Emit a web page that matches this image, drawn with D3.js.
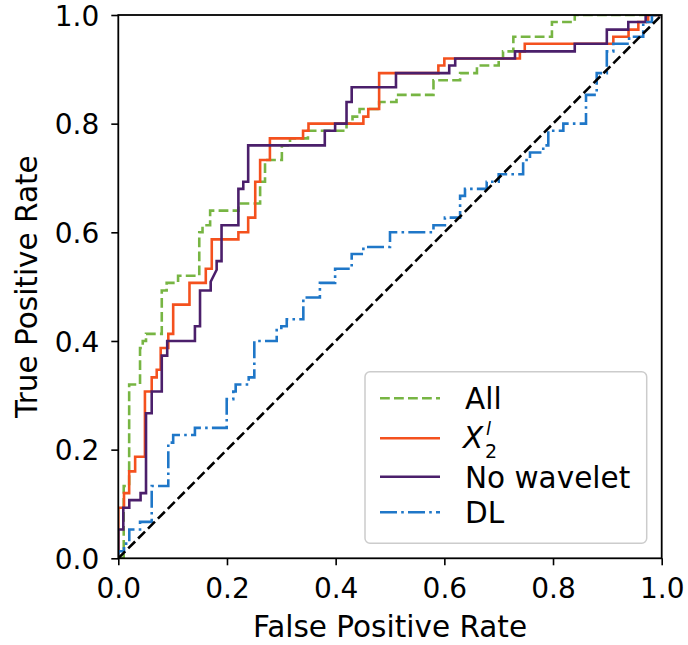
<!DOCTYPE html>
<html>
<head>
<meta charset="utf-8">
<script src="https://cdn.jsdelivr.net/npm/d3@7/dist/d3.min.js"></script>
<style>
  body { margin: 0; background: #fff; }
  text { font-family: "DejaVu Sans", sans-serif; fill: #000; }
</style>
</head>
<body>
<svg id="chart" width="688" height="645"></svg>
<script>
// ROC curves (vertices of the step lines)
const allFpr = [0, 0.01, 0.01, 0.02, 0.02, 0.04, 0.04, 0.045, 0.045, 0.051, 0.051, 0.08, 0.08, 0.089, 0.089, 0.11, 0.11, 0.149, 0.149, 0.155, 0.155, 0.169, 0.169, 0.221, 0.221, 0.261, 0.261, 0.27, 0.27, 0.301, 0.301, 0.316, 0.316, 0.349, 0.349, 0.42, 0.42, 0.431, 0.431, 0.444, 0.444, 0.48, 0.48, 0.512, 0.512, 0.58, 0.58, 0.629, 0.629, 0.66, 0.66, 0.70, 0.70, 0.708, 0.708, 0.727, 0.727, 0.798, 0.798, 0.84, 0.84, 1.0];
const allTpr = [0, 0, 0.133, 0.133, 0.32, 0.32, 0.387, 0.387, 0.40, 0.40, 0.413, 0.413, 0.493, 0.493, 0.507, 0.507, 0.52, 0.52, 0.60, 0.60, 0.613, 0.613, 0.64, 0.64, 0.653, 0.653, 0.693, 0.693, 0.733, 0.733, 0.76, 0.76, 0.773, 0.773, 0.787, 0.787, 0.80, 0.80, 0.813, 0.813, 0.827, 0.827, 0.84, 0.84, 0.853, 0.853, 0.88, 0.88, 0.893, 0.893, 0.907, 0.907, 0.92, 0.92, 0.933, 0.933, 0.96, 0.96, 0.987, 0.987, 1.0, 1.0];

const x2Fpr = [0, 0, 0.0105, 0.0105, 0.02, 0.02, 0.031, 0.031, 0.049, 0.049, 0.0615, 0.0615, 0.0707, 0.0707, 0.078, 0.078, 0.092, 0.092, 0.101, 0.101, 0.131, 0.131, 0.161, 0.161, 0.172, 0.172, 0.221, 0.221, 0.239, 0.239, 0.252, 0.252, 0.261, 0.261, 0.279, 0.279, 0.34, 0.34, 0.35, 0.35, 0.451, 0.451, 0.46, 0.46, 0.48, 0.48, 0.589, 0.589, 0.60, 0.60, 0.739, 0.739, 0.748, 0.748, 0.911, 0.911, 0.939, 0.939, 0.957, 0.957, 0.975, 0.975, 1.0];
const x2Tpr = [0, 0.093, 0.093, 0.12, 0.12, 0.16, 0.16, 0.187, 0.187, 0.307, 0.307, 0.333, 0.333, 0.347, 0.347, 0.387, 0.387, 0.413, 0.413, 0.467, 0.467, 0.507, 0.507, 0.533, 0.533, 0.587, 0.587, 0.60, 0.60, 0.627, 0.627, 0.693, 0.693, 0.733, 0.733, 0.773, 0.773, 0.787, 0.787, 0.80, 0.80, 0.813, 0.813, 0.827, 0.827, 0.893, 0.893, 0.907, 0.907, 0.92, 0.92, 0.933, 0.933, 0.947, 0.947, 0.96, 0.96, 0.973, 0.973, 0.987, 0.987, 1.0, 1.0];

const noWavFpr = [0, 0, 0.0092, 0.0092, 0.0202, 0.0202, 0.041, 0.041, 0.051, 0.051, 0.0615, 0.0615, 0.08, 0.08, 0.09, 0.09, 0.141, 0.141, 0.1504, 0.1504, 0.17, 0.17, 0.181, 0.181, 0.19, 0.19, 0.221, 0.221, 0.23, 0.23, 0.239, 0.239, 0.38, 0.38, 0.399, 0.399, 0.42, 0.42, 0.4295, 0.4295, 0.511, 0.511, 0.609, 0.609, 0.62, 0.62, 0.73, 0.73, 0.84, 0.84, 0.899, 0.899, 0.9385, 0.9385, 0.9705, 0.9705, 1.0];
const noWavTpr = [0, 0.053, 0.053, 0.093, 0.093, 0.107, 0.107, 0.12, 0.12, 0.267, 0.267, 0.307, 0.307, 0.373, 0.373, 0.40, 0.40, 0.427, 0.427, 0.493, 0.493, 0.509, 0.531, 0.547, 0.547, 0.613, 0.613, 0.68, 0.68, 0.693, 0.693, 0.76, 0.76, 0.787, 0.787, 0.80, 0.80, 0.84, 0.84, 0.867, 0.867, 0.893, 0.893, 0.907, 0.907, 0.92, 0.92, 0.933, 0.933, 0.947, 0.947, 0.973, 0.973, 0.987, 0.987, 1.0, 1.0];

const dlFpr = [0, 0, 0.0105, 0.0105, 0.0202, 0.0202, 0.04, 0.04, 0.0615, 0.0615, 0.092, 0.092, 0.101, 0.101, 0.141, 0.141, 0.1995, 0.1995, 0.2116, 0.2116, 0.216, 0.216, 0.24, 0.24, 0.2503, 0.2503, 0.2915, 0.2915, 0.30, 0.30, 0.31, 0.31, 0.3405, 0.3405, 0.371, 0.371, 0.399, 0.399, 0.4295, 0.4295, 0.451, 0.451, 0.50, 0.50, 0.58, 0.58, 0.601, 0.601, 0.629, 0.629, 0.638, 0.638, 0.678, 0.678, 0.70, 0.70, 0.745, 0.745, 0.7576, 0.7576, 0.782, 0.782, 0.7913, 0.7913, 0.819, 0.819, 0.8607, 0.8607, 0.8804, 0.8804, 0.899, 0.899, 0.911, 0.911, 0.94, 0.94, 0.966, 0.966, 0.982, 0.982, 1.0];
const dlTpr = [0, 0.013, 0.013, 0.027, 0.027, 0.053, 0.053, 0.067, 0.067, 0.133, 0.133, 0.213, 0.213, 0.227, 0.227, 0.24, 0.24, 0.293, 0.293, 0.307, 0.307, 0.32, 0.32, 0.333, 0.333, 0.40, 0.40, 0.42, 0.42, 0.427, 0.427, 0.44, 0.44, 0.48, 0.48, 0.507, 0.507, 0.533, 0.533, 0.56, 0.56, 0.573, 0.573, 0.60, 0.60, 0.613, 0.613, 0.627, 0.627, 0.667, 0.667, 0.68, 0.68, 0.693, 0.693, 0.707, 0.707, 0.733, 0.733, 0.747, 0.747, 0.76, 0.76, 0.787, 0.787, 0.80, 0.80, 0.853, 0.853, 0.893, 0.893, 0.933, 0.933, 0.947, 0.947, 0.96, 0.96, 0.987, 0.987, 1.0, 1.0];

const chanceLine = [0, 1];
const tickValues = [0, 0.2, 0.4, 0.6, 0.8, 1.0];

const series = [
    { name: 'All', fpr: allFpr, tpr: allTpr, color: '#77b543', dash: '9.8,4.2' },
    { name: 'X2l', fpr: x2Fpr, tpr: x2Tpr, color: '#f4511e', dash: null },
    { name: 'No wavelet', fpr: noWavFpr, tpr: noWavTpr, color: '#4b1f6b', dash: null },
    { name: 'DL', fpr: dlFpr, tpr: dlTpr, color: '#1f77c8', dash: '17,4.2,2.6,4.2' }
];

const svg = d3.select('#chart');
const margin = { top: 15, left: 118.3 };
const width = 543.4;
const height = 543.3;

const x = d3.scaleLinear().domain([0, 1]).range([margin.left, margin.left + width]);
const y = d3.scaleLinear().domain([0, 1]).range([margin.top + height, margin.top]);

svg.append('defs').append('clipPath').attr('id', 'plot-clip')
    .append('rect')
    .attr('x', x(0)).attr('y', y(1))
    .attr('width', width).attr('height', height);

const line = d3.line()
    .x(d => x(d[0]))
    .y(d => y(d[1]));

const plot = svg.append('g').attr('clip-path', 'url(#plot-clip)');

series.forEach(s => {
    const pts = s.fpr.map((f, i) => [f, s.tpr[i]]);
    plot.append('path')
        .datum(pts)
        .attr('d', line)
        .attr('fill', 'none')
        .attr('stroke', s.color)
        .attr('stroke-width', 2.6)
        .attr('stroke-dasharray', s.dash);
});

// chance diagonal
plot.append('path')
    .datum(chanceLine.map(v => [v, v]))
    .attr('d', line)
    .attr('fill', 'none')
    .attr('stroke', '#000')
    .attr('stroke-width', 2.6)
    .attr('stroke-dasharray', '9.8,4.2');

// axes
const xAxis = svg.append('g')
    .attr('transform', `translate(0,${y(0)})`)
    .call(d3.axisBottom(x).tickValues(tickValues).tickFormat(d3.format('.1f')).tickSize(7).tickSizeOuter(0));
xAxis.select('.domain').remove();
xAxis.selectAll('.tick line').attr('stroke', '#000').attr('stroke-width', 1.6);
xAxis.selectAll('.tick text')
    .attr('y', 39.7).attr('dy', 0)
    .style('font-size', '28px')
    .style('font-family', '"DejaVu Sans", sans-serif');

const yAxis = svg.append('g')
    .attr('transform', `translate(${x(0)},0)`)
    .call(d3.axisLeft(y).tickValues(tickValues).tickFormat(d3.format('.1f')).tickSize(7).tickSizeOuter(0));
yAxis.select('.domain').remove();
yAxis.selectAll('.tick line').attr('stroke', '#000').attr('stroke-width', 1.6);
yAxis.selectAll('.tick text')
    .attr('x', -19).attr('dy', '0.36em')
    .style('font-size', '28px')
    .style('font-family', '"DejaVu Sans", sans-serif');

// spines
svg.append('rect')
    .attr('x', x(0)).attr('y', y(1))
    .attr('width', width).attr('height', height)
    .attr('fill', 'none')
    .attr('stroke', '#000')
    .attr('stroke-width', 1.8);

// axis labels
svg.append('text')
    .attr('x', margin.left + width / 2)
    .attr('y', 637)
    .attr('text-anchor', 'middle')
    .style('font-size', '29.5px')
    .text('False Positive Rate');

svg.append('text')
    .attr('transform', `translate(37,${margin.top + height / 2}) rotate(-90)`)
    .attr('text-anchor', 'middle')
    .style('font-size', '29.5px')
    .text('True Positive Rate');

// legend
const legend = svg.append('g');
legend.append('rect')
    .attr('x', 365).attr('y', 371.7)
    .attr('width', 281.7).attr('height', 171.6)
    .attr('rx', 5).attr('ry', 5)
    .attr('fill', '#fff').attr('fill-opacity', 0.8)
    .attr('stroke', '#cccccc').attr('stroke-width', 1.5);

const rowY = [398.3, 438.3, 476.7, 512.3];
series.forEach((s, i) => {
    legend.append('line')
        .attr('x1', 380).attr('x2', 440)
        .attr('y1', rowY[i]).attr('y2', rowY[i])
        .attr('stroke', s.color)
        .attr('stroke-width', 2.6)
        .attr('stroke-dasharray', s.dash);
    if (s.name === 'X2l') {
        legend.append('text')
            .attr('x', 463).attr('y', 448)
            .style('font-size', '29.5px').style('font-style', 'italic')
            .text('X');
        legend.append('text')
            .attr('x', 486).attr('y', 435)
            .style('font-size', '18px').style('font-style', 'italic')
            .text('l');
        legend.append('text')
            .attr('x', 485).attr('y', 458)
            .style('font-size', '19px')
            .text('2');
    } else {
        legend.append('text')
            .attr('x', 465).attr('y', rowY[i])
            .attr('dy', '0.37em')
            .style('font-size', '29.5px')
            .text(s.name);
    }
});
</script>
</body>
</html>
